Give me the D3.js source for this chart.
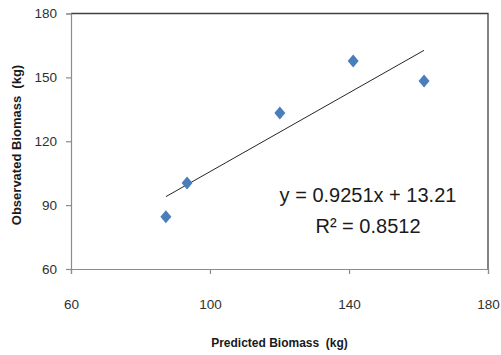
<!DOCTYPE html>
<html>
<head>
<meta charset="utf-8">
<script src="https://cdn.jsdelivr.net/npm/d3@7"></script>
<style>
  body { margin: 0; background: #fff; }
  text { font-family: "Liberation Sans", Arial, sans-serif; }
</style>
</head>
<body>
<script>
// data
const predicted = [87.3, 93.4, 120.1, 141.2, 161.6];
const observed = [84.5, 100.4, 133.3, 157.7, 148.3];
const xTicks = [60, 100, 140, 180];
const yTicks = [60, 90, 120, 150, 180];
const slope = 0.9251;
const intercept = 13.21;
const eqLines = ['y = 0.9251x + 13.21', 'R\u00b2 = 0.8512'];

const W = 501, H = 355;
const m = { left: 71, right: 13, top: 13.5, bottom: 86 };

const svg = d3.select('body').append('svg')
  .attr('width', W)
  .attr('height', H);

const x = d3.scaleLinear().domain([60, 180]).range([m.left, W - m.right]);
const y = d3.scaleLinear().domain([60, 180]).range([H - m.bottom, m.top]);

// plot border (top/right dark)
svg.append('path')
  .attr('d', `M${x(60)},${y(180)}H${x(180)}V${y(60)}`)
  .attr('fill', 'none')
  .attr('stroke', '#404040')
  .attr('stroke-width', 1.3);

const xAxis = svg.append('g')
  .attr('transform', `translate(0,${y(60)})`)
  .call(d3.axisBottom(x).tickValues(xTicks).tickSize(5).tickPadding(25));
const yAxis = svg.append('g')
  .attr('transform', `translate(${x(60)},0)`)
  .call(d3.axisLeft(y).tickValues(yTicks).tickSize(5).tickPadding(9));

[xAxis, yAxis].forEach((g) => {
  g.select('.domain').attr('stroke', '#8c8c8c').attr('stroke-width', 1.2);
  g.selectAll('.tick line').attr('stroke', '#8c8c8c').attr('stroke-width', 1.2);
  g.selectAll('.tick text')
    .attr('fill', '#303030')
    .style('font-family', '"Liberation Sans", Arial, sans-serif')
    .style('font-size', '13.5px');
});

// trend line
const xMin = d3.min(predicted), xMax = d3.max(predicted);
svg.append('line')
  .attr('x1', x(xMin))
  .attr('y1', y(slope * xMin + intercept))
  .attr('x2', x(xMax))
  .attr('y2', y(slope * xMax + intercept))
  .attr('stroke', '#262626')
  .attr('stroke-width', 1);

// diamond markers
svg.selectAll('.pt')
  .data(predicted)
  .join('path')
  .attr('class', 'pt')
  .attr('d', 'M0,-6.5L5.5,0L0,6.5L-5.5,0Z')
  .attr('transform', (d, i) => `translate(${x(d)},${y(observed[i])})`)
  .attr('fill', '#4a7ebb');

// equation
svg.selectAll('.eq')
  .data(eqLines)
  .join('text')
  .attr('class', 'eq')
  .attr('x', 368)
  .attr('y', (d, i) => 202 + i * 31)
  .attr('text-anchor', 'middle')
  .attr('fill', '#1a1a1a')
  .style('font-size', '20px')
  .text((d) => d);

// axis titles
svg.append('text')
  .attr('x', (x(60) + x(180)) / 2)
  .attr('y', 347)
  .attr('text-anchor', 'middle')
  .attr('fill', '#1a1a1a')
  .style('font-size', '12px')
  .style('font-weight', 'bold')
  .style('white-space', 'pre')
  .text('Predicted Biomass  (kg)');

svg.append('text')
  .attr('transform', `translate(21,145) rotate(-90)`)
  .attr('text-anchor', 'middle')
  .attr('fill', '#1a1a1a')
  .style('font-size', '13px')
  .style('font-weight', 'bold')
  .style('white-space', 'pre')
  .text('Observated Biomass  (kg)');
</script>
</body>
</html>
